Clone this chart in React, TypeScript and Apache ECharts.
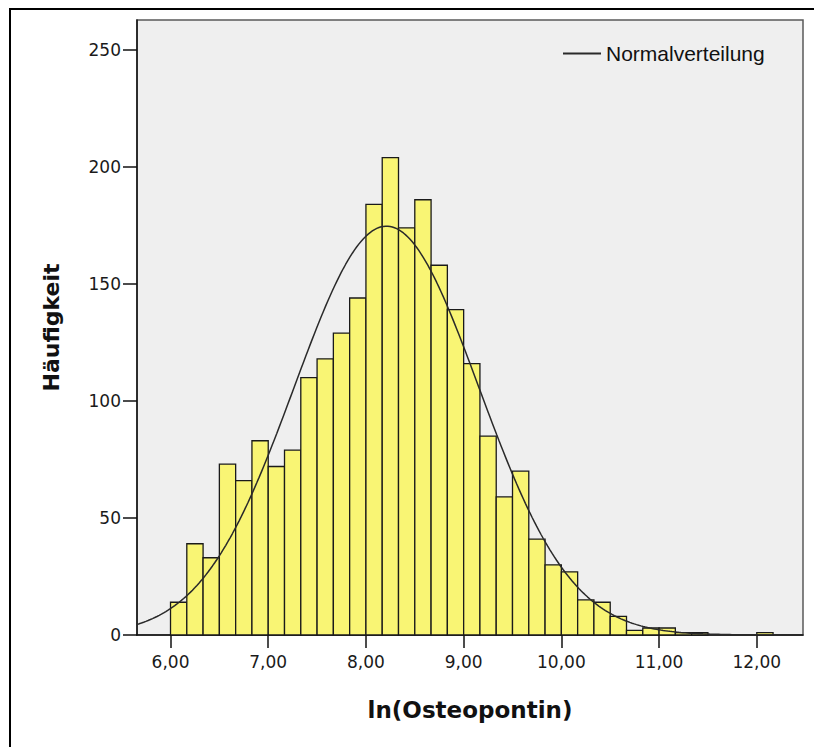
import React, { useEffect, useRef } from "react";
import * as echarts from "echarts";

// Histogram bins: start, width and counts
const BIN_START = 6.0;
const BIN_WIDTH = 1 / 6;
const COUNTS = [
  14, 39, 33, 73, 66, 83, 72, 79, 110, 118, 129, 144, 184, 204, 174, 186, 158,
  139, 116, 85, 59, 70, 41, 30, 27, 15, 14, 8, 2, 3, 3, 1, 1, 0, 0, 0, 1,
];

const X_TICKS = [6, 7, 8, 9, 10, 11, 12];
const Y_TICKS = [0, 50, 100, 150, 200, 250];
const X_MIN = 5.657;
const X_MAX = 12.473;
const Y_MAX = 262.8;

const SERIES_HIST = "Häufigkeit";
const SERIES_NORMAL = "Normalverteilung";
const X_TITLE = "ln(Osteopontin)";
const Y_TITLE = "Häufigkeit";

function buildBins() {
  return COUNTS.map((c, i) => [
    BIN_START + i * BIN_WIDTH,
    BIN_START + (i + 1) * BIN_WIDTH,
    c,
  ]).filter((b) => b[2] > 0);
}

// Normal curve fitted to the histogram (mean and sd of the binned data)
function buildNormal() {
  let n = 0;
  let s = 0;
  COUNTS.forEach((c, i) => {
    const mid = BIN_START + (i + 0.5) * BIN_WIDTH;
    n += c;
    s += c * mid;
  });
  const mean = s / n;
  let v = 0;
  COUNTS.forEach((c, i) => {
    const mid = BIN_START + (i + 0.5) * BIN_WIDTH;
    v += c * (mid - mean) * (mid - mean);
  });
  const sd = Math.sqrt(v / (n - 1));
  const pts: number[][] = [];
  const steps = 300;
  for (let k = 0; k <= steps; k++) {
    const x = X_MIN + ((X_MAX - X_MIN) * k) / steps;
    const z = (x - mean) / sd;
    const y = (n * BIN_WIDTH) / (sd * Math.sqrt(2 * Math.PI)) * Math.exp(-0.5 * z * z);
    pts.push([x, y]);
  }
  return pts;
}

export default function App() {
  const ref = useRef<HTMLDivElement>(null);

  useEffect(() => {
    if (!ref.current) return;
    const chart = echarts.init(ref.current, null, { renderer: "svg" });
    const tickFont = {
      fontFamily: "DejaVu Sans",
      fontSize: 17,
      color: "#1a1a1a",
    };
    chart.setOption({
      animation: false,
      backgroundColor: "#ffffff",
      grid: {
        left: 137,
        top: 20,
        right: 11,
        bottom: 112,
        show: true,
        backgroundColor: "#efefef",
        borderColor: "#5a5a5a",
        borderWidth: 1.5,
      },
      legend: {
        left: 558,
        top: 38,
        itemWidth: 38,
        itemHeight: 2,
        itemGap: 10,
        data: [
          {
            name: SERIES_NORMAL,
            icon: "rect",
            itemStyle: { color: "#2a2a2a" },
          },
        ],
        textStyle: {
          fontFamily: "Liberation Sans",
          fontSize: 21,
          color: "#111",
        },
      },
      xAxis: {
        type: "value",
        min: X_MIN,
        max: X_MAX,
        name: X_TITLE,
        nameLocation: "middle",
        nameGap: 63,
        nameTextStyle: {
          fontFamily: "DejaVu Sans",
          fontWeight: "bold",
          fontSize: 23,
          color: "#111",
        },
        axisLine: { onZero: false, lineStyle: { color: "#111", width: 1.5 } },
        axisTick: {
          show: true,
          length: 13,
          customValues: X_TICKS,
          lineStyle: { color: "#111", width: 1.5 },
        },
        axisLabel: {
          ...tickFont,
          margin: 18,
          customValues: X_TICKS,
          formatter: (v: number) => v.toFixed(2).replace(".", ","),
        },
        splitLine: { show: false },
      },
      yAxis: {
        type: "value",
        min: 0,
        max: Y_MAX,
        name: Y_TITLE,
        nameLocation: "middle",
        nameGap: 75,
        nameTextStyle: {
          fontFamily: "DejaVu Sans",
          fontWeight: "bold",
          fontSize: 22,
          color: "#111",
        },
        axisLine: { show: true, lineStyle: { color: "#111", width: 1.5 } },
        axisTick: {
          show: true,
          length: 14,
          customValues: Y_TICKS,
          lineStyle: { color: "#111", width: 1.5 },
        },
        axisLabel: {
          ...tickFont,
          margin: 16,
          customValues: Y_TICKS,
          formatter: (v: number) => String(Math.round(v)),
        },
        splitLine: { show: false },
      },
      series: [
        {
          name: SERIES_HIST,
          type: "custom",
          z: 2,
          encode: { x: [0, 1], y: 2 },
          data: buildBins(),
          renderItem: (params: any, api: any) => {
            const tl = api.coord([api.value(0), api.value(2)]);
            const br = api.coord([api.value(1), 0]);
            return {
              type: "rect",
              shape: {
                x: tl[0],
                y: tl[1],
                width: br[0] - tl[0],
                height: br[1] - tl[1],
              },
              style: {
                fill: "#f9f574",
                stroke: "#1a1a1a",
                lineWidth: 1.3,
              },
            };
          },
        },
        {
          name: SERIES_NORMAL,
          type: "line",
          z: 3,
          symbol: "none",
          showSymbol: false,
          smooth: false,
          data: buildNormal(),
          lineStyle: { color: "#2a2a2a", width: 1.5 },
          itemStyle: { color: "#2a2a2a" },
        },
      ],
      graphic: [
        {
          type: "line",
          shape: { x1: 9, y1: 9, x2: 814, y2: 9 },
          style: { stroke: "#000", lineWidth: 2 },
        },
        {
          type: "line",
          shape: { x1: 10, y1: 8, x2: 10, y2: 747 },
          style: { stroke: "#000", lineWidth: 2 },
        },
      ],
    });
    return () => chart.dispose();
  }, []);

  return (
    <div
      ref={ref}
      style={{ position: "absolute", left: 0, top: 0, width: 814, height: 747 }}
    />
  );
}
